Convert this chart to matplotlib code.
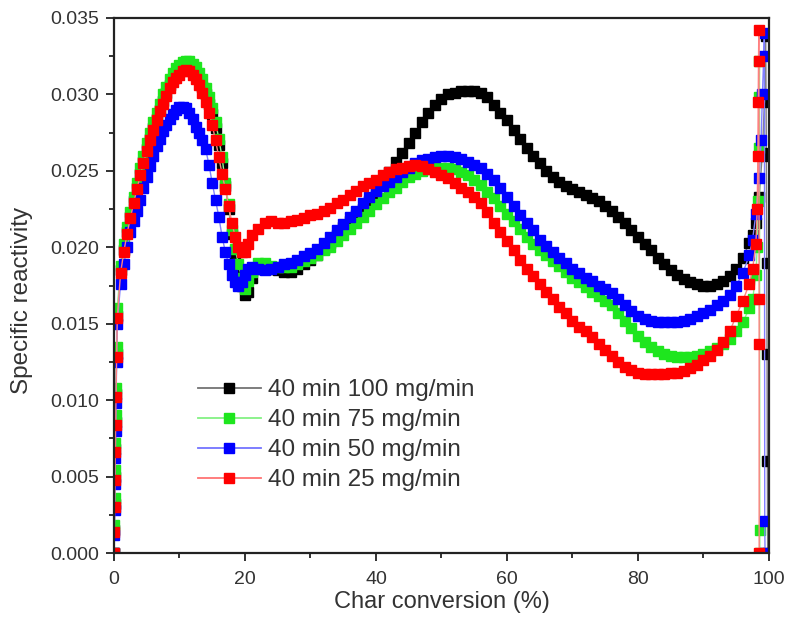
import numpy as np
import matplotlib
matplotlib.use("Agg")
import matplotlib.pyplot as plt
from matplotlib.colors import to_rgb
from matplotlib.lines import Line2D
from matplotlib.ticker import MultipleLocator, FormatStrFormatter

plt.rcParams["font.family"] = ["Liberation Sans", "DejaVu Sans"]

# -------------------------------------------------
# Data: specific reactivity vs char conversion
# -------------------------------------------------
# sampling grid shared by all runs (fine near the start, then 1 % steps)
conv_start = [0, 0.05, 0.1, 0.15, 0.2, 0.25, 0.3, 0.4, 0.5]
conv_peak = list(np.arange(1.0, 21.5, 0.5))
conv_body = list(range(22, 98))
conversion = conv_start + conv_peak + conv_body

labels = ["40 min 100 mg/min", "40 min 75 mg/min", "40 min 50 mg/min", "40 min 25 mg/min"]
colors = ["#000000", "#1ee61e", "#0000ff", "#ff0000"]

r100 = (
    [0.0, 0.0015, 0.0032, 0.0050, 0.0068, 0.0086, 0.0104, 0.0130, 0.0155]
    + [0.0185, 0.0198, 0.0210, 0.0220, 0.0230, 0.0239, 0.0248, 0.0256, 0.0264, 0.0271,
       0.0278, 0.0284, 0.0290, 0.0296, 0.0301, 0.0306, 0.0310, 0.0313, 0.0316, 0.0318,
       0.0319, 0.0319, 0.0317, 0.0314, 0.0310, 0.0305, 0.0300, 0.0294, 0.0287, 0.0278,
       0.0267, 0.0255, 0.0240, 0.0225, 0.0209, 0.0195, 0.0184, 0.0175, 0.0169, 0.0171,
       0.0180]
    + [0.0186, 0.0187, 0.0186, 0.0185, 0.0184, 0.0184, 0.0186, 0.0189, 0.0192, 0.0195,
       0.0199, 0.0203, 0.0208, 0.0213, 0.0217, 0.0221, 0.0225, 0.0230, 0.0235, 0.0242,
       0.0249, 0.0256, 0.0262, 0.0268, 0.0275, 0.0282, 0.0288, 0.0293, 0.0297, 0.0300,
       0.0301, 0.0302, 0.0302, 0.0302, 0.0301, 0.0298, 0.0293, 0.0288, 0.0283, 0.0277,
       0.0271, 0.0265, 0.0260, 0.0255, 0.0250, 0.0246, 0.0243, 0.0240, 0.0238, 0.0236,
       0.0234, 0.0232, 0.0230, 0.0227, 0.0224, 0.0220, 0.0216, 0.0211, 0.0207, 0.0202,
       0.0198, 0.0193, 0.0189, 0.0185, 0.0182, 0.0179, 0.0177, 0.0176, 0.0175, 0.0175,
       0.0176, 0.0178, 0.0181, 0.0186, 0.0193, 0.0203]
)
r75 = (
    [0.0, 0.0018, 0.0036, 0.0054, 0.0072, 0.0090, 0.0108, 0.0135, 0.0160]
    + [0.0188, 0.0202, 0.0213, 0.0223, 0.0233, 0.0242, 0.0252, 0.0260, 0.0268, 0.0275,
       0.0282, 0.0288, 0.0294, 0.0300, 0.0305, 0.0310, 0.0314, 0.0317, 0.0319, 0.0321,
       0.0322, 0.0322, 0.0320, 0.0318, 0.0314, 0.0310, 0.0304, 0.0298, 0.0291, 0.0282,
       0.0271, 0.0259, 0.0242, 0.0228, 0.0211, 0.0199, 0.0189, 0.0180, 0.0173, 0.0178,
       0.0184]
    + [0.0190, 0.0190, 0.0188, 0.0187, 0.0187, 0.0187, 0.0189, 0.0191, 0.0193, 0.0195,
       0.0198, 0.0200, 0.0204, 0.0208, 0.0212, 0.0216, 0.0220, 0.0224, 0.0228, 0.0232,
       0.0236, 0.0239, 0.0243, 0.0246, 0.0248, 0.0250, 0.0251, 0.0252, 0.0252, 0.0252,
       0.0251, 0.0249, 0.0247, 0.0244, 0.0241, 0.0236, 0.0232, 0.0227, 0.0222, 0.0217,
       0.0212, 0.0207, 0.0202, 0.0198, 0.0195, 0.0191, 0.0188, 0.0184, 0.0180, 0.0177,
       0.0174, 0.0171, 0.0168, 0.0165, 0.0162, 0.0157, 0.0152, 0.0147, 0.0142, 0.0138,
       0.0135, 0.0132, 0.0130, 0.0129, 0.0128, 0.0128, 0.0128, 0.0129, 0.0130, 0.0132,
       0.0134, 0.0137, 0.0140, 0.0145, 0.0151, 0.0160]
)
r50 = (
    [0.0, 0.0012, 0.0028, 0.0045, 0.0062, 0.0080, 0.0098, 0.0125, 0.0150]
    + [0.0176, 0.0189, 0.0200, 0.0210, 0.0217, 0.0224, 0.0231, 0.0239, 0.0246, 0.0253,
       0.0260, 0.0266, 0.0271, 0.0276, 0.0280, 0.0284, 0.0287, 0.0290, 0.0292, 0.0292,
       0.0291, 0.0288, 0.0284, 0.0279, 0.0275, 0.0270, 0.0264, 0.0254, 0.0242, 0.0231,
       0.0220, 0.0207, 0.0197, 0.0189, 0.0182, 0.0177, 0.0175, 0.0177, 0.0182, 0.0186,
       0.0187]
    + [0.0186, 0.0185, 0.0186, 0.0187, 0.0189, 0.0190, 0.0192, 0.0194, 0.0196, 0.0199,
       0.0203, 0.0207, 0.0211, 0.0215, 0.0220, 0.0224, 0.0229, 0.0233, 0.0237, 0.0240,
       0.0243, 0.0246, 0.0249, 0.0252, 0.0255, 0.0257, 0.0258, 0.0259, 0.0260, 0.0260,
       0.0259, 0.0258, 0.0256, 0.0254, 0.0252, 0.0248, 0.0244, 0.0239, 0.0233, 0.0227,
       0.0221, 0.0216, 0.0211, 0.0205, 0.0201, 0.0197, 0.0193, 0.0190, 0.0186, 0.0183,
       0.0180, 0.0178, 0.0175, 0.0173, 0.0170, 0.0166, 0.0162, 0.0158, 0.0155, 0.0153,
       0.0152, 0.0151, 0.0151, 0.0151, 0.0151, 0.0152, 0.0153, 0.0155, 0.0157, 0.0159,
       0.0162, 0.0165, 0.0169, 0.0175, 0.0183, 0.0195]
)
r25 = (
    [0.0, 0.0014, 0.0030, 0.0048, 0.0066, 0.0084, 0.0102, 0.0128, 0.0154]
    + [0.0183, 0.0197, 0.0209, 0.0219, 0.0229, 0.0238, 0.0247, 0.0255, 0.0263, 0.0270,
       0.0277, 0.0283, 0.0289, 0.0294, 0.0299, 0.0304, 0.0308, 0.0311, 0.0313, 0.0315,
       0.0316, 0.0315, 0.0313, 0.0310, 0.0306, 0.0301, 0.0295, 0.0288, 0.0280, 0.0270,
       0.0259, 0.0248, 0.0238, 0.0227, 0.0216, 0.0207, 0.0200, 0.0197, 0.0197, 0.0202,
       0.0208]
    + [0.0212, 0.0216, 0.0217, 0.0216, 0.0216, 0.0217, 0.0218, 0.0219, 0.0221, 0.0222,
       0.0224, 0.0226, 0.0229, 0.0231, 0.0234, 0.0237, 0.0240, 0.0242, 0.0244, 0.0247,
       0.0249, 0.0251, 0.0252, 0.0253, 0.0254, 0.0253, 0.0251, 0.0249, 0.0247, 0.0245,
       0.0242, 0.0239, 0.0236, 0.0233, 0.0229, 0.0223, 0.0216, 0.0210, 0.0204, 0.0198,
       0.0192, 0.0186, 0.0181, 0.0176, 0.0171, 0.0166, 0.0161, 0.0157, 0.0152, 0.0148,
       0.0145, 0.0141, 0.0137, 0.0133, 0.0129, 0.0125, 0.0122, 0.0120, 0.0118, 0.0117,
       0.0117, 0.0117, 0.0117, 0.0118, 0.0118, 0.0119, 0.0121, 0.0123, 0.0126, 0.0129,
       0.0133, 0.0138, 0.0145, 0.0155, 0.0165, 0.0176]
)

# final burn-out: sharp rise then drop to zero
tail_x100 = [97.5, 98, 98.5, 99, 99.3, 99.5, 99.6, 99.65, 99.7, 99.75, 99.8]
tail_y100 = [0.0208, 0.0216, 0.0233, 0.0262, 0.0295, 0.0338, 0.0260, 0.0190, 0.0130, 0.0060, 0.0]
tail_x75 = [97.5, 98, 98.2, 98.3, 98.4, 98.5, 98.55, 98.6, 98.6]
tail_y75 = [0.0166, 0.0182, 0.0200, 0.0230, 0.0265, 0.0298, 0.0322, 0.0015, 0.0]
tail_x50 = [97.5, 98, 98.5, 98.8, 99.0, 99.2, 99.3, 99.35, 99.4]
tail_y50 = [0.0205, 0.0222, 0.0245, 0.0270, 0.0300, 0.0325, 0.0340, 0.0021, 0.0]
tail_x25 = [97.5, 98, 98.2, 98.3, 98.35, 98.4, 98.45, 98.5, 98.5, 98.5]
tail_y25 = [0.0186, 0.0202, 0.0225, 0.0260, 0.0295, 0.0322, 0.0342, 0.0166, 0.0137, 0.0]

series = [
    (r100, tail_x100, tail_y100),
    (r75, tail_x75, tail_y75),
    (r50, tail_x50, tail_y50),
    (r25, tail_x25, tail_y25),
]


def faded(col, amount=0.5):
    # blend a colour towards white for the thin joining line
    r, g, b = to_rgb(col)
    return (r + (1 - r) * amount, g + (1 - g) * amount, b + (1 - b) * amount)


# -------------------------------------------------
# Plot
# -------------------------------------------------
fig = plt.figure(figsize=(7.9, 6.36), dpi=100)
ax = fig.add_axes([0.1443, 0.1305, 0.8291, 0.8412])

ink = "#222222"
txt = "#333333"

handles = []
for (body, tx, ty), lab, col in zip(series, labels, colors):
    xs = conversion + tx
    ys = body + ty
    # faint joining line, solid square symbols on top
    ax.plot(xs, ys, color=faded(col, 0.5), lw=1.0)
    ax.plot(xs, ys, ls="none", marker="s", markersize=7,
            markeredgecolor=col, markerfacecolor=col)
    handles.append(Line2D([], [], color=faded(col, 0.45), lw=1.3, marker="s",
                          markersize=7, markerfacecolor=col, markeredgecolor=col))

ax.set_xlim(0, 100)
ax.set_ylim(0, 0.035)
ax.xaxis.set_major_locator(MultipleLocator(20))
ax.xaxis.set_minor_locator(MultipleLocator(10))
ax.yaxis.set_major_locator(MultipleLocator(0.005))
ax.yaxis.set_minor_locator(MultipleLocator(0.0025))
ax.yaxis.set_major_formatter(FormatStrFormatter("%.3f"))

ax.tick_params(which="both", direction="out", top=False, right=False,
               width=1.3, colors=ink, labelcolor=txt)
ax.tick_params(which="major", length=6, labelsize=14)
ax.tick_params(which="minor", length=3.5)
ax.tick_params(axis="y", which="major", pad=5)
ax.tick_params(axis="x", which="major", pad=7)
for sp in ax.spines.values():
    sp.set_linewidth(1.6)
    sp.set_color(ink)

ax.set_xlabel("Char conversion (%)", fontsize=17, color=txt, labelpad=2)
ax.set_ylabel("Specific reactivity", fontsize=17.5, color=txt)
ax.yaxis.set_label_coords(-0.124, 0.473)

leg = ax.legend(handles, labels, loc="upper left", bbox_to_anchor=(0.128, 0.325),
                frameon=False, fontsize=17.5, handlelength=2.6, handletextpad=0.3,
                labelspacing=0.33, borderpad=0, borderaxespad=0)
for t in leg.get_texts():
    t.set_color(txt)

fig.savefig("out.png", dpi=100)
